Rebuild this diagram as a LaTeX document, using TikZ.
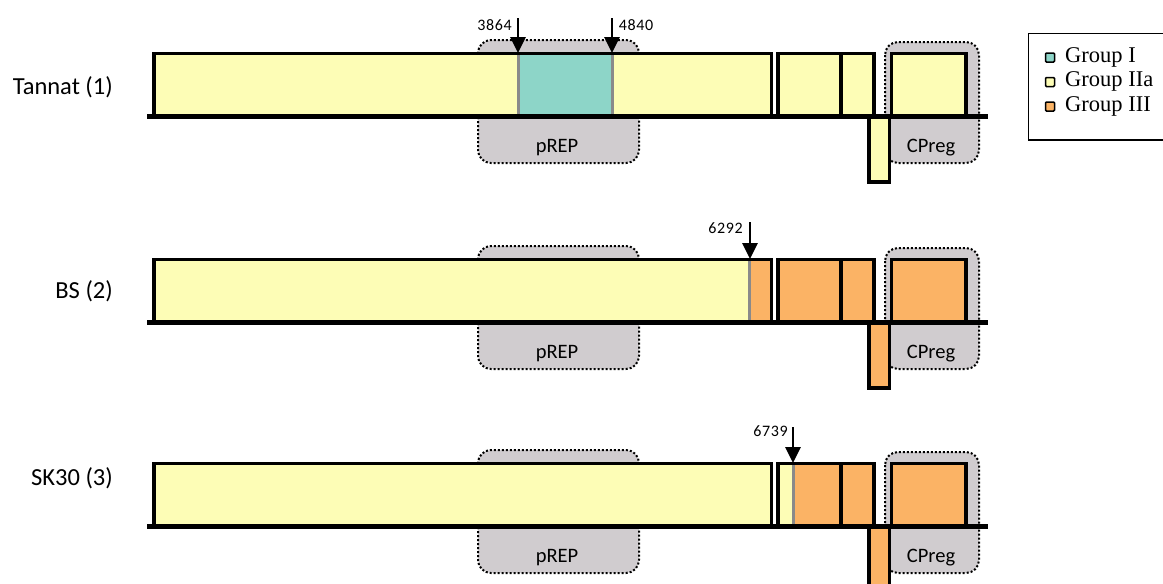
\documentclass[tikz,border=0pt]{standalone}
\usepackage{fontspec}
\setmainfont{Carlito}
\newfontfamily\legendfont{Liberation Serif}
\newfontfamily\numfont[LetterSpace=4]{Carlito}
\usetikzlibrary{arrows.meta}

\definecolor{gIa}{HTML}{8DD5C8}
\definecolor{gIIa}{HTML}{FDFDB6}
\definecolor{gIII}{HTML}{FBB365}
\definecolor{regfill}{HTML}{D0CCCF}
\definecolor{sepgrey}{HTML}{8A8A8A}

\tikzset{
  region/.style={fill=regfill, draw=black, line width=2pt,
    dash pattern=on 2pt off 2pt, rounded corners=13pt},
  seg/.style={draw=black, line width=3.8pt},
  backbone/.style={draw=black, line width=5pt},
  sepline/.style={draw=sepgrey, line width=3pt},
  posarrow/.style={-{Triangle[width=15pt,length=16pt]}, line width=2.8pt},
  poslabel/.style={font=\numfont\fontsize{16}{16}\selectfont, inner sep=0pt},
  strain/.style={font=\fontsize{24.5}{24.5}\selectfont, anchor=east, inner sep=0pt},
  reglabel/.style={font=\fontsize{20.5}{20.5}\selectfont, inner sep=0pt},
  legsq/.style={draw=black, line width=1.5pt, minimum size=9pt, inner sep=0pt, rounded corners=1pt},
  legtext/.style={font=\legendfont\fontsize{22.5}{22.5}\selectfont, anchor=west, inner sep=0pt}
}

% one genome map: #1 = fill of first block, #2 = fill of the two middle blocks,
% #3 = fill of the reverse block and the CP block
\newcommand{\genomemap}[3]{%
  % pREP and CPreg regions
  \draw[region] (478,40) rectangle (639,163);
  \draw[region] (885,42) rectangle (979,163);
  \node[reglabel] (prep) at (557,148) {pREP};
  \node[reglabel] (cpreg) at (931,148) {CPreg};
  % blocks
  \fill[#1] (154,53.5) rectangle (771.5,116.5);
  \fill[#2] (778,53.5) rectangle (874,116.5);
  \fill[#3] (869,116.5) rectangle (889.5,182);
  \fill[#3] (891.5,53.5) rectangle (966,116.5);
}
% block outlines, shared by all three maps
\newcommand{\genomeoutline}{%
  \draw[seg] (154,116.5) |- (771.5,53.5) -- (771.5,116.5);
  \draw[seg] (778,116.5) |- (874,53.5) -- (874,116.5);
  \draw[seg] (841,53.5) -- (841,116.5);
  \draw[seg] (869,116.5) |- (889.5,182) -- (889.5,116.5);
  \draw[seg] (891.5,116.5) |- (966,53.5) -- (966,116.5);
  \draw[backbone] (147,116.5) -- (988,116.5);
}

\begin{document}
\begin{tikzpicture}[x=1pt,y=-1pt]
\useasboundingbox (0,0) rectangle (1163,584);

% ---------------- Tannat (1) ----------------
\begin{scope}
  \genomemap{gIIa}{gIIa}{gIIa}
  \fill[gIa] (518,53.5) rectangle (612,116.5);
  \draw[sepline] (518,55) -- (518,115);
  \draw[sepline] (612,55) -- (612,115);
  \genomeoutline
  \node[strain] (s1) at (113,87) {Tannat (1)};
  \node[poslabel] (p3864) at (494.5,25) {3864};
  \node[poslabel] (p4840) at (636,25) {4840};
  \coordinate (a1s) at (518,18);
  \coordinate (a1e) at (518,53);
  \coordinate (a2s) at (612,18);
  \coordinate (a2e) at (612,53);
  \draw[posarrow] (a1s) -- (a1e);
  \draw[posarrow] (a2s) -- (a2e);
\end{scope}

% ---------------- BS (2) ----------------
\begin{scope}[yshift=-206pt]
  \genomemap{gIIa}{gIII}{gIII}
  \fill[gIII] (749.5,53.5) rectangle (771.5,116.5);
  \draw[sepline] (749.5,55) -- (749.5,115);
  \genomeoutline
  \node[strain] (s2) at (113,85) {BS (2)};
  \node[poslabel] (p6292) at (725.5,22) {6292};
  \coordinate (b1s) at (750,16);
  \coordinate (b1e) at (750,53);
  \draw[posarrow] (b1s) -- (b1e);
\end{scope}

% ---------------- SK30 (3) ----------------
\begin{scope}[yshift=-410pt]
  \genomemap{gIIa}{gIII}{gIII}
  \fill[gIIa] (778,53.5) rectangle (793.5,116.5);
  \draw[sepline] (793.5,55) -- (793.5,115);
  \genomeoutline
  \node[strain] (s3) at (113,68) {SK30 (3)};
  \node[poslabel] (p6739) at (770.5,21) {6739};
  \coordinate (c1s) at (793,17);
  \coordinate (c1e) at (793,53);
  \draw[posarrow] (c1s) -- (c1e);
\end{scope}

% ---------------- legend ----------------
\draw[line width=1.5pt] (1180,33.5) -| (1028.5,140) -- (1180,140);
\node[legsq, fill=gIa]  (k1) at (1050,57.5) {};
\node[legsq, fill=gIIa] (k2) at (1050,82) {};
\node[legsq, fill=gIII] (k3) at (1050,106.5) {};
\node[legtext] (t1) at (1065,57) {Group I};
\node[legtext] (t2) at (1065,81.5) {Group IIa};
\node[legtext] (t3) at (1065,106) {Group III};
\end{tikzpicture}
\end{document}
